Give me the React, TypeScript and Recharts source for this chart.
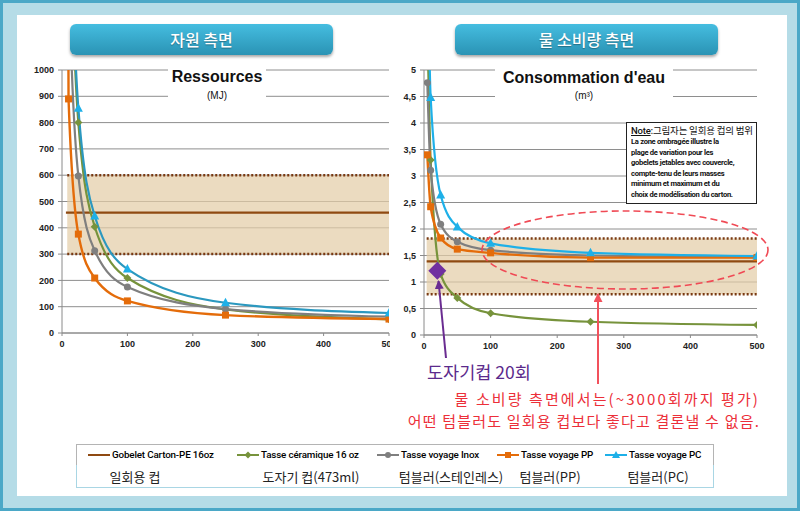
import React from "react";
import {
  ComposedChart,
  Line,
  Scatter,
  XAxis,
  YAxis,
  CartesianGrid,
  ReferenceArea,
  ReferenceLine,
} from "recharts";

// number of uses (x) and impacts
const usesLeft = [1, 10, 25, 50, 100, 250, 500];
const ppMJ = [8735, 890, 376, 209, 122, 68, 53];
const inoxMJ = [13800, 1417, 597, 313, 175, 91, 62];
const ceramicMJ = [19500, 1964, 800, 404, 209, 90, 52];
const pcMJ = [20200, 2061, 855, 445, 243, 115, 76];
const cartonUsesLeft = [6, 500];
const cartonMJ = [458, 458];
const cartonRangeMJ = [300, 600];

const usesRight = [5, 10, 25, 50, 100, 250, 500];
const ppWater = [3.4, 2.42, 1.83, 1.62, 1.55, 1.46, 1.46];
const inoxWater = [4.76, 3.11, 2.09, 1.76, 1.6, 1.5, 1.47];
const ceramicWater = [5.9, 3.3, 1.15, 0.7, 0.41, 0.25, 0.19];
const pcWater = [7.4, 4.48, 2.64, 2.04, 1.73, 1.55, 1.49];
const cartonUsesRight = [4, 500];
const cartonWater = [1.39, 1.39];
const cartonRangeWater = [0.77, 1.82];
const highlightUses = [20];
const highlightWater = [1.21];

const xTicks = [0, 100, 200, 300, 400, 500];
const mjTicks = [0, 100, 200, 300, 400, 500, 600, 700, 800, 900, 1000];
const waterTicks = [0, 0.5, 1, 1.5, 2, 2.5, 3, 3.5, 4, 4.5, 5];

const seriesNames = [
  "Gobelet Carton-PE 16oz",
  "Tasse céramique 16 oz",
  "Tasse voyage Inox",
  "Tasse voyage PP",
  "Tasse voyage PC",
];
const koreanNames = ["일회용 컵", "도자기 컵(473ml)", "텀블러(스테인레스)", "텀블러(PP)", "텀블러(PC)"];

const C = {
  carton: "#8f4a12",
  ceramic: "#77933c",
  inox: "#7f7f7f",
  pp: "#e46c0a",
  pc: "#1eb0e8",
  pcDark: "#2b98bf",
  band: "#e3cda8",
  bandEdge: "#7a3a12",
  grid: "#8e8e8e",
};

const KR = "'Noto Sans CJK KR', 'Noto Sans', sans-serif";
const LAT = "'Liberation Sans', Arial, sans-serif";

const leftRows = usesLeft.map((x, i) => ({
  x,
  pp: ppMJ[i],
  inox: inoxMJ[i],
  ceramic: ceramicMJ[i],
  pc: pcMJ[i],
}));
const rightRows = usesRight.map((x, i) => ({
  x,
  pp: ppWater[i],
  inox: inoxWater[i],
  ceramic: ceramicWater[i],
  pc: pcWater[i],
}));
const cartonLeftRows = cartonUsesLeft.map((x, i) => ({ x, carton: cartonMJ[i] }));
const cartonRightRows = cartonUsesRight.map((x, i) => ({ x, carton: cartonWater[i] }));
const highlightRows = highlightUses.map((x, i) => ({ x, y: highlightWater[i] }));

const squareDot = (color: string) => (p: any) =>
  p.cx == null || p.cy == null ? <g key={p.index} /> : (
    <rect key={p.index} x={p.cx - 3.5} y={p.cy - 3.5} width={7} height={7} fill={color} />
  );
const circleDot = (color: string) => (p: any) =>
  p.cx == null || p.cy == null ? <g key={p.index} /> : (
    <circle key={p.index} cx={p.cx} cy={p.cy} r={3.5} fill={color} />
  );
const diamondDot = (color: string) => (p: any) =>
  p.cx == null || p.cy == null ? <g key={p.index} /> : (
    <polygon
      key={p.index}
      points={`${p.cx},${p.cy - 4} ${p.cx + 4},${p.cy} ${p.cx},${p.cy + 4} ${p.cx - 4},${p.cy}`}
      fill={color}
    />
  );
const triangleDot = (color: string) => (p: any) =>
  p.cx == null || p.cy == null ? <g key={p.index} /> : (
    <polygon
      key={p.index}
      points={`${p.cx},${p.cy - 5} ${p.cx + 4.5},${p.cy + 3.5} ${p.cx - 4.5},${p.cy + 3.5}`}
      fill={color}
    />
  );

const tickStyle = { fontSize: 9, fill: "#222", fontWeight: "bold" as const, fontFamily: LAT };

type PanelProps = {
  rows: any[];
  cartonRows: any[];
  range: number[];
  yTicks: number[];
  yMax: number;
  width: number;
  height: number;
  yWidth: number;
  margin: any;
  fmt: (v: number) => string;
  pcStroke: string;
  bandStart: number;
  children?: React.ReactNode;
};

const Panel = ({
  rows,
  cartonRows,
  range,
  yTicks,
  yMax,
  width,
  height,
  yWidth,
  margin,
  fmt,
  pcStroke,
  bandStart,
  children,
}: PanelProps) => (
  <ComposedChart width={width} height={height} data={rows} margin={margin}>
    <CartesianGrid vertical={false} stroke={C.grid} strokeWidth={1} />
    <XAxis
      dataKey="x"
      type="number"
      domain={[0, 500]}
      ticks={xTicks}
      height={20}
      tick={tickStyle}
      tickSize={3}
      tickMargin={5}
      stroke="#8a8a8a"
      allowDataOverflow
    />
    <YAxis
      type="number"
      domain={[0, yMax]}
      ticks={yTicks}
      width={yWidth}
      tick={tickStyle}
      tickFormatter={fmt}
      tickSize={4}
      tickMargin={4}
      stroke="#8a8a8a"
      allowDataOverflow
    />
    <ReferenceArea x1={bandStart} x2={500} y1={range[0]} y2={range[1]} fill={C.band} fillOpacity={0.72} stroke="none" />
    <ReferenceLine
      segment={[{ x: bandStart, y: range[0] }, { x: 500, y: range[0] }]}
      stroke={C.bandEdge}
      strokeWidth={2.5}
      strokeDasharray="2 2"
    />
    <ReferenceLine
      segment={[{ x: bandStart, y: range[1] }, { x: 500, y: range[1] }]}
      stroke={C.bandEdge}
      strokeWidth={2.5}
      strokeDasharray="2 2"
    />
    <Line
      data={cartonRows}
      dataKey="carton"
      stroke={C.carton}
      strokeWidth={2.2}
      dot={false}
      isAnimationActive={false}
    />
    <Line type="monotone" dataKey="ceramic" stroke={C.ceramic} strokeWidth={2.2} dot={diamondDot(C.ceramic)} isAnimationActive={false} />
    <Line type="monotone" dataKey="inox" stroke={C.inox} strokeWidth={2.2} dot={circleDot(C.inox)} isAnimationActive={false} />
    <Line type="monotone" dataKey="pp" stroke={C.pp} strokeWidth={2.4} dot={squareDot(C.pp)} isAnimationActive={false} />
    <Line type="monotone" dataKey="pc" stroke={pcStroke} strokeWidth={2.2} dot={triangleDot(C.pc)} isAnimationActive={false} />
    {children}
  </ComposedChart>
);

const LegendIcon = ({ color, kind }: { color: string; kind: string }) => (
  <svg width={24} height={10} style={{ verticalAlign: "middle" }}>
    <line x1={1} y1={5} x2={23} y2={5} stroke={color} strokeWidth={2} />
    {kind === "square" && <rect x={9} y={2} width={6} height={6} fill={color} />}
    {kind === "circle" && <circle cx={12} cy={5} r={3} fill={color} />}
    {kind === "diamond" && <polygon points="12,1.5 15.5,5 12,8.5 8.5,5" fill={color} />}
    {kind === "triangle" && <polygon points="12,1 16,8 8,8" fill={color} />}
  </svg>
);

const legendItems = [
  { color: C.carton, kind: "none", x: 87 },
  { color: C.ceramic, kind: "diamond", x: 236 },
  { color: C.inox, kind: "circle", x: 376 },
  { color: C.pp, kind: "square", x: 496 },
  { color: C.pc, kind: "triangle", x: 604 },
];
const koreanCenters = [135, 311, 451, 550, 658];

const TitleButton = ({ left, text }: { left: number; text: string }) => (
  <div
    style={{
      position: "absolute",
      left,
      top: 24,
      width: 263,
      height: 31,
      borderRadius: 6,
      background: "linear-gradient(#45bde0, #2a93b4)",
      boxShadow: "0 2px 3px rgba(0,0,0,0.35)",
      color: "#fff",
      fontFamily: KR,
      fontSize: 16,
      fontWeight: 500,
      lineHeight: "31px",
      textAlign: "center",
      textShadow: "0 1px 1px rgba(0,0,0,0.3)",
    }}
  >
    {text}
  </div>
);

const noteLines = [
  "La zone ombragée illustre la",
  "plage de variation pour les",
  "gobelets jetables avec couvercle,",
  "compte-tenu de leurs masses",
  "minimum et maximum et du",
  "choix de modélisation du carton.",
];

export default function App() {
  return (
    <div style={{ position: "absolute", left: 0, top: 0, width: 800, height: 511, background: "#b5dce7", overflow: "hidden" }}>
      <div style={{ position: "absolute", left: 0, top: 0, width: 800, height: 511, boxSizing: "border-box", border: "3px solid #4ba8c7" }} />
      <div style={{ position: "absolute", left: 17, top: 15, width: 770, height: 481, background: "#fff" }} />

      <TitleButton left={70} text="자원 측면" />
      <TitleButton left={455} text="물 소비량 측면" />

      <div style={{ position: "absolute", left: 20, top: 60 }}>
        <Panel
          rows={leftRows}
          cartonRows={cartonLeftRows}
          range={cartonRangeMJ}
          yTicks={mjTicks}
          yMax={1000}
          width={380}
          height={300}
          yWidth={34}
          margin={{ top: 10, right: 11, bottom: 7, left: 8 }}
          fmt={(v) => String(v)}
          pcStroke={C.pcDark}
          bandStart={8}
        />
      </div>

      <div style={{ position: "absolute", left: 390, top: 60, background: "#fff" }}>
        <Panel
          rows={rightRows}
          cartonRows={cartonRightRows}
          range={cartonRangeWater}
          yTicks={waterTicks}
          yMax={5}
          width={377}
          height={302}
          yWidth={26}
          margin={{ top: 10, right: 10, bottom: 7, left: 8 }}
          fmt={(v) => String(v).replace(".", ",")}
          pcStroke={C.pc}
          bandStart={4}
        >
          <Scatter
            data={highlightRows}
            dataKey="y"
            isAnimationActive={false}
            shape={(p: any) => (
              <polygon
                points={`${p.cx},${p.cy - 9} ${p.cx + 9},${p.cy} ${p.cx},${p.cy + 9} ${p.cx - 9},${p.cy}`}
                fill="#7030a0"
              />
            )}
          />
        </Panel>
      </div>

      {/* chart titles on white boxes */}
      <div style={{ position: "absolute", left: 168, top: 64, width: 98, height: 37, background: "#fff", textAlign: "center", fontFamily: LAT, color: "#111" }}>
        <div style={{ fontSize: 16, fontWeight: "bold", lineHeight: "20px", marginTop: 3 }}>Ressources</div>
        <div style={{ fontSize: 10, lineHeight: "12px", marginTop: 3 }}>(MJ)</div>
      </div>
      <div style={{ position: "absolute", left: 495, top: 64, width: 178, height: 37, background: "#fff", textAlign: "center", fontFamily: LAT, color: "#111" }}>
        <div style={{ fontSize: 16, fontWeight: "bold", lineHeight: "20px", marginTop: 4 }}>Consommation d'eau</div>
        <div style={{ fontSize: 10, lineHeight: "12px", marginTop: 2 }}>(m³)</div>
      </div>

      {/* note box */}
      <div
        style={{
          position: "absolute",
          left: 626,
          top: 122,
          width: 131,
          height: 82,
          boxSizing: "border-box",
          border: "1.5px solid #222",
          background: "#fff",
          padding: "1px 0 0 4px",
          color: "#111",
        }}
      >
        <div style={{ fontFamily: KR, fontSize: 9.5, lineHeight: "12px", whiteSpace: "nowrap", letterSpacing: -0.2 }}>
          <span style={{ textDecoration: "underline", fontFamily: "Roboto", fontWeight: 500 }}>Note</span>:그림자는 일회용 컵의 범위
        </div>
        {noteLines.map((t) => (
          <div key={t} style={{ fontFamily: "Roboto", fontSize: 7.6, fontWeight: 700, letterSpacing: -0.3, lineHeight: "10.5px", whiteSpace: "nowrap" }}>
            {t}
          </div>
        ))}
      </div>

      {/* annotations */}
      <svg width={800} height={511} style={{ position: "absolute", left: 0, top: 0, pointerEvents: "none" }}>
        <defs>
          <marker id="ahRed" markerUnits="userSpaceOnUse" markerWidth="9" markerHeight="9" refX="8" refY="4.5" orient="auto">
            <path d="M0,0 L9,4.5 L0,9 z" fill="#f2515c" />
          </marker>
          <marker id="ahPurple" markerUnits="userSpaceOnUse" markerWidth="9" markerHeight="9" refX="8" refY="4.5" orient="auto">
            <path d="M0,0 L9,4.5 L0,9 z" fill="#6a2c91" />
          </marker>
        </defs>
        <ellipse cx={625} cy={250} rx={143} ry={39} fill="none" stroke="#f04a55" strokeWidth={1.6} strokeDasharray="7 4" />
        <line x1={598} y1={384} x2={598} y2={294} stroke="#f2515c" strokeWidth={2} markerEnd="url(#ahRed)" />
        <line x1={446} y1={358} x2={438.5} y2={281} stroke="#6a2c91" strokeWidth={2} markerEnd="url(#ahPurple)" />
      </svg>

      <div style={{ position: "absolute", left: 427, top: 361, fontFamily: KR, fontSize: 17.5, lineHeight: "22px", color: "#5b2a8c", whiteSpace: "nowrap" }}>
        도자기컵 20회
      </div>
      <div style={{ position: "absolute", right: 40, top: 388, fontFamily: KR, fontSize: 15, lineHeight: "21px", color: "#ec2f39", textAlign: "right", whiteSpace: "nowrap", letterSpacing: 2.1 }}>
        물 소비량 측면에서는(~3000회까지 평가)
      </div>
      <div style={{ position: "absolute", right: 40, top: 410, fontFamily: KR, fontSize: 15, lineHeight: "21px", color: "#ec2f39", textAlign: "right", whiteSpace: "nowrap", letterSpacing: 1.2 }}>
        어떤 텀블러도 일회용 컵보다 좋다고 결론낼 수 없음.
      </div>

      {/* legend table */}
      <div style={{ position: "absolute", left: 76, top: 444, width: 638, height: 22, boxSizing: "border-box", border: "1px solid #b4b4b4", background: "#fff" }} />
      <div style={{ position: "absolute", left: 76, top: 465, width: 638, height: 23, boxSizing: "border-box", border: "1px solid #a9d6e4", borderTop: "none", background: "#fff" }} />
      {legendItems.map((it, i) => (
        <div
          key={seriesNames[i]}
          style={{ position: "absolute", left: it.x, top: 448, height: 14, lineHeight: "14px", fontFamily: "Roboto", fontSize: 9.8, fontWeight: 500, letterSpacing: -0.15, color: "#000", whiteSpace: "nowrap" }}
        >
          <LegendIcon color={it.color} kind={it.kind} />
          <span style={{ marginLeft: 1 }}>{seriesNames[i]}</span>
        </div>
      ))}
      {koreanNames.map((t, i) => (
        <div
          key={t}
          style={{ position: "absolute", left: koreanCenters[i] - 80, width: 160, top: 467, lineHeight: "20px", textAlign: "center", fontFamily: KR, fontSize: 13, color: "#222" }}
        >
          {t}
        </div>
      ))}
    </div>
  );
}
